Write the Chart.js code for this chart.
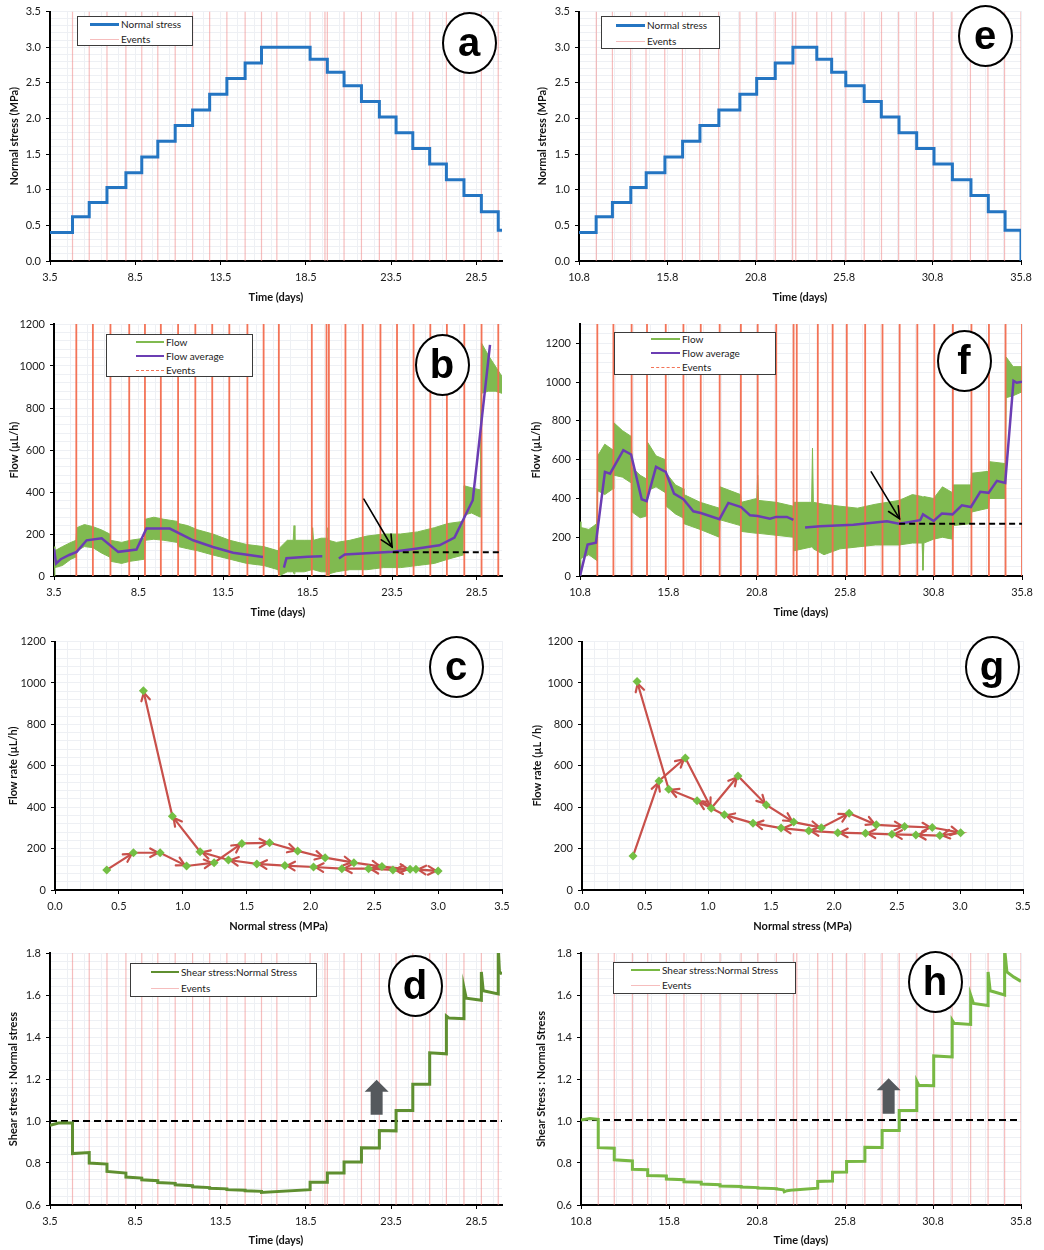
<!DOCTYPE html>
<html>
<head>
<meta charset="utf-8">
<script src="https://cdn.jsdelivr.net/npm/chart.js@4.4.1/dist/chart.umd.min.js"></script>
<style>
  body { margin: 0; background: #fff; }
  #page { position: relative; width: 1044px; height: 1250px; overflow: hidden; font-family: Lato, "Open Sans", sans-serif; }
  canvas { position: absolute; }
  .legend { position: absolute; background: #fff; border: 1px solid #3b3b3b; box-sizing: border-box; font-size: 10px; color: #222; }
  .legend .txt { position: absolute; height: 12px; line-height: 12px; white-space: nowrap; }
  .legend .smp { position: absolute; height: 0; }
  .badge { position: absolute; border: 2px solid #000; border-radius: 50%; box-sizing: border-box; background: #fff;
           font: bold 40px "Liberation Sans", Arial, sans-serif; text-align: center; color: #000; }
</style>
</head>
<body>
<div id="page"></div>
<script>
// ---------- left experiment (a, b, c, d) ----------
const eventsLeft = [4.82, 5.80, 6.84, 7.95, 8.88, 9.82, 10.84, 11.86, 12.86, 13.87, 14.94, 15.90, 16.80,
                    18.75, 19.62, 19.76, 20.74, 21.76, 22.81, 23.79, 24.77, 25.76, 26.74, 27.77, 28.79, 29.78];
const timeTicksLeft = [3.5, 8.5, 13.5, 18.5, 23.5, 28.5];

// a: normal stress steps (time the level starts, level)
const stepTimeA = [3.5, 4.82, 5.80, 6.84, 7.95, 8.88, 9.82, 10.84, 11.86, 12.86, 13.87, 14.94, 15.90,
                   18.75, 19.76, 20.74, 21.76, 22.81, 23.79, 24.77, 25.76, 26.74, 27.77, 28.79, 29.78, 30.0];
const stressA = [0.40, 0.62, 0.82, 1.03, 1.24, 1.46, 1.68, 1.90, 2.12, 2.34, 2.56, 2.78, 3.00,
                 2.83, 2.65, 2.46, 2.24, 2.02, 1.80, 1.58, 1.36, 1.14, 0.92, 0.69, 0.43, 0.43];

// b: flow band (upper / lower edge of the noisy record) and flow average
const flowTimeB = [3.5, 3.55, 4.0, 4.5, 4.8, 4.85, 5.3, 5.8, 6.3, 6.8, 6.85, 7.5, 8.0, 8.85, 8.9, 9.4, 10.0, 10.8, 10.85, 11.4,
                   12.0, 12.9, 13.9, 14.9, 15.9, 16.75, 16.8, 17.3, 17.65, 17.7, 17.75, 18.3, 18.75, 18.8, 18.85, 19.3, 19.65, 19.7, 19.75, 20.2,
                   21.0, 22.0, 23.0, 24.0, 25.0, 26.0, 26.8, 27.7, 27.75, 28.2, 28.72, 28.78, 29.2, 29.6, 30.0];
const flowHighB = [140, 120, 140, 160, 170, 230, 245, 235, 220, 200, 170, 160, 170, 180, 270, 280, 270, 260, 250, 240,
                   220, 200, 170, 150, 140, 120, 130, 170, 170, 240, 170, 170, 170, 230, 170, 180, 180, 230, 170, 160,
                   170, 190, 200, 200, 210, 230, 250, 260, 430, 420, 410, 1110, 1050, 1000, 950];
const flowLowB = [0, 40, 50, 80, 90, 120, 140, 135, 110, 90, 70, 60, 70, 80, 170, 175, 170, 160, 140, 130,
                  120, 100, 80, 60, 50, 30, 0, 20, 20, 10, 20, 20, 30, 30, 30, 20, 20, 0, 10, 20,
                  30, 30, 40, 40, 50, 60, 80, 100, 290, 300, 280, 870, 880, 880, 870];
const avgTimeB = [3.5, 3.62, 3.9, 4.4, 4.84, 5.43, 6.32, 7.3, 8.38, 8.97, 10.35, 11.73, 12.9, 14.1, 15.86, 16.5, 17.1, 17.25, 18.5, 19.37,
                  19.9, 20.35, 20.7, 22.0, 23.54, 24.9, 26.3, 27.19, 28.27, 29.29];
const avgFlowB = [130, 60, 80, 100, 115, 170, 180, 115, 126, 226, 226, 170, 138, 111, 91, null, 40, 85, 92, 94,
                  null, 83, 102, 108, 115, 130, 146, 183, 361, 1101];
const dashTimeB = [23.54, 30.0];
const dashFlowB = [113, 113];
const pointerB = [21.83, 366, 23.5, 138];

// c: flow rate vs normal stress (loading then unloading)
const stressC = [0.405, 0.614, 0.823, 1.03, 1.246, 1.463, 1.68, 1.90, 2.115, 2.34, 2.56, 2.78, 3.0,
                 2.826, 2.646, 2.455, 2.246, 2.024, 1.80, 1.58, 1.358, 1.136, 0.919, 0.692];
const flowC = [97, 180, 180, 116, 132, 225, 228, 189, 156, 132, 113, 100, 92,
               100, 97, 103, 103, 111, 118, 126, 145, 185, 356, 963];

// d: shear stress : normal stress
const timeD = [3.5, 4.0, 4.82, 4.82, 5.80, 5.80, 6.84, 6.84, 7.95, 7.95, 8.88, 8.88, 9.82, 9.82, 10.84, 10.84, 11.86, 11.86, 12.86, 12.86,
               13.87, 13.87, 14.94, 14.94, 15.90, 15.90, 18.75, 18.75, 19.76, 19.76, 20.74, 20.74, 21.76, 21.76, 22.81, 22.81, 23.79, 23.79, 24.77, 24.77,
               25.76, 25.76, 26.74, 26.74, 26.9, 27.77, 27.77, 27.9, 28.79, 28.79, 28.9, 29.78, 29.78, 29.85, 30.0];
const ratioD = [0.98, 0.99, 0.99, 0.845, 0.85, 0.80, 0.795, 0.76, 0.752, 0.733, 0.728, 0.72, 0.716, 0.707, 0.703, 0.696, 0.692, 0.687, 0.683, 0.68,
                0.677, 0.673, 0.67, 0.668, 0.665, 0.66, 0.673, 0.708, 0.708, 0.752, 0.752, 0.805, 0.805, 0.873, 0.872, 0.955, 0.953, 1.05, 1.05, 1.175,
                1.175, 1.325, 1.32, 1.50, 1.49, 1.487, 1.635, 1.585, 1.575, 1.71, 1.62, 1.605, 1.83, 1.71, 1.70];
const limitTimeD = [3.5, 30.0];
const limitD = [1.0, 1.0];
const blockD = [22.65, 1.03, 1.196];

// ---------- right experiment (e, f, g, h) ----------
const eventsRight = [11.78, 12.69, 13.72, 14.59, 15.65, 16.65, 17.63, 18.70, 19.90, 20.85, 21.90, 22.88, 23.06,
                     24.25, 25.09, 25.89, 26.93, 27.91, 28.88, 29.88, 30.84, 31.89, 32.94, 33.93, 34.87, 35.80];
const timeTicksRight = [10.8, 15.8, 20.8, 25.8, 30.8, 35.8];

const stepTimeE = [10.8, 11.77, 12.69, 13.73, 14.6, 15.66, 16.66, 17.64, 18.71, 19.9, 20.85, 21.9, 22.9,
                   24.25, 25.09, 25.89, 26.93, 27.9, 28.9, 29.9, 30.88, 31.92, 32.97, 33.95, 34.9, 35.8];
const stressE = [0.40, 0.62, 0.82, 1.03, 1.24, 1.46, 1.68, 1.90, 2.12, 2.34, 2.56, 2.78, 3.00,
                 2.83, 2.65, 2.46, 2.24, 2.02, 1.80, 1.58, 1.36, 1.14, 0.92, 0.69, 0.43, 0.0];

const flowTimeF = [10.8, 10.85, 11.3, 11.75, 11.8, 12.2, 12.67, 12.72, 13.2, 13.7, 13.75, 14.2, 14.57, 14.62, 15.1, 15.63, 15.68, 16.2, 16.63, 16.68,
                   17.6, 18.68, 18.72, 19.88, 19.92, 20.8, 20.85, 20.9, 21.9, 22.87, 22.9, 23.9, 23.95, 24.0, 24.6, 25.5, 26.5, 27.5, 28.85, 29.6,
                   30.15, 30.2, 30.25, 30.8, 31.3, 31.87, 31.92, 32.9, 32.95, 33.9, 33.95, 34.85, 34.9, 35.3, 35.8];
const flowHighF = [280, 250, 240, 270, 620, 680, 650, 790, 750, 720, 560, 520, 500, 690, 620, 600, 530, 470, 450, 420,
                   380, 350, 460, 420, 380, 400, 520, 390, 380, 360, 380, 380, 660, 380, 370, 360, 350, 370, 390, 420,
                   410, 400, 410, 400, 460, 430, 470, 470, 530, 540, 590, 580, 1130, 1080, 1080];
const flowLowF = [0, 90, 110, 80, 440, 420, 450, 520, 510, 480, 330, 300, 310, 440, 460, 430, 360, 320, 300, 270,
                  240, 200, 290, 260, 230, 220, 220, 220, 210, 200, 130, 150, 150, 140, 110, 140, 150, 160, 160, 170,
                  170, 30, 170, 190, 200, 190, 260, 270, 330, 350, 400, 400, 920, 930, 950];
const avgTimeF = [10.8, 11.23, 11.7, 12.21, 12.5, 13.25, 13.69, 14.29, 14.57, 15.1, 15.65, 16.12, 16.65, 17.21, 17.63, 18.69, 19.19, 19.91, 20.42, 20.85,
                  21.55, 21.89, 22.5, 22.87, 23.2, 23.53, 24.38, 26.27, 28.16, 28.85, 30.04, 30.2, 30.8, 31.27, 31.87, 32.4, 32.91, 33.44, 33.91, 34.38,
                  34.85, 35.32, 35.5, 35.8];
const avgFlowF = [0, 162, 172, 537, 528, 649, 627, 396, 386, 563, 537, 425, 396, 334, 325, 293, 377, 356, 313, 310,
                  296, 305, 305, 290, null, 250, 257, 265, 282, 270, 288, 318, 284, 322, 318, 365, 356, 434, 429, 491,
                  480, 1007, 997, 1002];
const dashTimeF = [28.85, 35.8];
const dashFlowF = [270, 270];
const pointerF = [27.27, 537, 28.87, 296];

const stressG = [0.405, 0.611, 0.82, 1.026, 1.238, 1.463, 1.68, 1.90, 2.12, 2.336, 2.56, 2.78, 3.005,
                 2.84, 2.65, 2.46, 2.25, 2.03, 1.80, 1.58, 1.357, 1.13, 0.913, 0.688, 0.437];
const flowG = [164, 527, 638, 395, 551, 411, 328, 301, 371, 315, 307, 302, 277,
               263, 266, 269, 274, 277, 286, 299, 323, 363, 431, 487, 1007];

const timeH = [10.8, 11.3, 11.78, 11.78, 12.69, 12.69, 13.72, 13.72, 14.59, 14.59, 15.65, 15.65, 16.65, 16.65, 17.63, 17.63, 18.7, 18.7, 19.9, 19.9,
               20.85, 20.85, 21.9, 21.9, 22.3, 22.35, 22.5, 22.88, 24.25, 24.25, 25.09, 25.09, 25.89, 25.89, 26.93, 26.93, 27.91, 27.91, 28.88, 28.88,
               29.88, 29.88, 30.0, 30.84, 30.84, 31.89, 31.89, 32.0, 32.94, 32.94, 33.1, 33.93, 33.93, 34.05, 34.87, 34.87, 35.0, 35.4, 35.8];
const ratioH = [1.005, 1.012, 1.008, 0.873, 0.87, 0.815, 0.81, 0.77, 0.768, 0.74, 0.738, 0.724, 0.72, 0.711, 0.708, 0.70, 0.697, 0.69, 0.688, 0.686,
                0.683, 0.681, 0.678, 0.676, 0.672, 0.663, 0.668, 0.672, 0.68, 0.712, 0.714, 0.756, 0.757, 0.807, 0.808, 0.875, 0.874, 0.955, 0.955, 1.05,
                1.05, 1.19, 1.17, 1.168, 1.31, 1.305, 1.48, 1.465, 1.46, 1.60, 1.56, 1.55, 1.71, 1.62, 1.60, 1.82, 1.71, 1.685, 1.665];
const limitTimeH = [10.8, 35.8];
const limitH = [1.005, 1.005];
const blockH = [28.28, 1.034, 1.204];

// shared tick labels
const stressTicks = [0, 0.5, 1.0, 1.5, 2.0, 2.5, 3.0, 3.5];
const flowTicks = [0, 200, 400, 600, 800, 1000, 1200];
const ratioTicks = [0.6, 0.8, 1.0, 1.2, 1.4, 1.6, 1.8];

// ---------- drawing ----------
Chart.defaults.font.family = 'Lato, "Open Sans", sans-serif';
Chart.defaults.font.size = 11;
Chart.defaults.color = '#1a1a1a';

const MAJOR = '#d6dbe3', MINOR = '#eef0f4';
const PALE_EVENT = 'rgba(240,145,145,0.6)', RED_EVENT = 'rgba(242,108,78,0.95)';
const page = document.getElementById('page');

function pts(xs, ys) { return xs.map((x, i) => ({ x: x, y: ys[i] })); }
function eventPts(times, lo, hi) {
  const out = [];
  times.forEach(t => { out.push({ x: t, y: lo }, { x: t, y: hi }, { x: t, y: null }); });
  return out;
}
function ds(data, color, width, extra) {
  return Object.assign({ data: data, borderColor: color, backgroundColor: color, borderWidth: width, pointRadius: 0,
    fill: false, borderJoinStyle: 'miter', xAxisID: 'x', yAxisID: 'y' }, extra || {});
}

// arrowheads on segment ends, pointer arrows, block arrows
const extras = {
  id: 'extras',
  afterDatasetDraw(chart, args) {
    const set = chart.data.datasets[args.index];
    if (!set.arrowHeads) return;
    const c = chart.ctx, p = args.meta.data;
    c.save();
    c.strokeStyle = set.borderColor; c.lineWidth = 2.2; c.lineCap = 'round'; c.lineJoin = 'round';
    for (let i = 1; i < p.length; i++) {
      const a = Math.atan2(p[i].y - p[i - 1].y, p[i].x - p[i - 1].x);
      const tx = p[i].x - 2 * Math.cos(a), ty = p[i].y - 2 * Math.sin(a);
      c.beginPath();
      c.moveTo(tx - 9 * Math.cos(a - 0.5), ty - 9 * Math.sin(a - 0.5));
      c.lineTo(tx, ty);
      c.lineTo(tx - 9 * Math.cos(a + 0.5), ty - 9 * Math.sin(a + 0.5));
      c.stroke();
    }
    c.restore();
  },
  afterDatasetsDraw(chart, args, opts) {
    const c = chart.ctx, xs = chart.scales.x, ys = chart.scales.y;
    if (opts.pointer) {
      const q = opts.pointer;
      const x1 = xs.getPixelForValue(q[0]), y1 = ys.getPixelForValue(q[1]);
      const x2 = xs.getPixelForValue(q[2]), y2 = ys.getPixelForValue(q[3]);
      const a = Math.atan2(y2 - y1, x2 - x1);
      c.save();
      c.strokeStyle = '#000'; c.lineWidth = 1.6; c.lineCap = 'round';
      c.beginPath(); c.moveTo(x1, y1); c.lineTo(x2, y2); c.stroke();
      c.beginPath();
      c.moveTo(x2 - 13 * Math.cos(a - 0.45), y2 - 13 * Math.sin(a - 0.45));
      c.lineTo(x2, y2);
      c.lineTo(x2 - 13 * Math.cos(a + 0.45), y2 - 13 * Math.sin(a + 0.45));
      c.stroke();
      c.restore();
    }
    if (opts.block) {
      const q = opts.block;
      const x = xs.getPixelForValue(q[0]), y0 = ys.getPixelForValue(q[1]), y1 = ys.getPixelForValue(q[2]);
      c.save();
      c.fillStyle = '#55595d';
      c.beginPath();
      c.moveTo(x - 6, y0); c.lineTo(x - 6, y1 + 12); c.lineTo(x - 12, y1 + 12); c.lineTo(x, y1);
      c.lineTo(x + 12, y1 + 12); c.lineTo(x + 6, y1 + 12); c.lineTo(x + 6, y0);
      c.closePath(); c.fill();
      c.restore();
    }
  }
};
Chart.register(extras);

function makeChart(b, xc, yc, datasets, extra) {
  const cv = document.createElement('canvas');
  cv.width = b.w; cv.height = b.h;
  cv.style.left = b.x + 'px'; cv.style.top = b.y + 'px';
  page.appendChild(cv);
  const minor = c => ax => {
    const t = [];
    for (let v = c.min; v <= c.max + 1e-9; v += c.minor) t.push({ value: +v.toFixed(4) });
    ax.ticks = t;
  };
  return new Chart(cv, {
    type: 'line',
    data: { datasets: datasets },
    options: {
      responsive: false, animation: false, events: [],
      layout: { padding: { left: 0, top: b.top, right: b.w - b.right, bottom: 0 } },
      plugins: { legend: { display: false }, tooltip: { enabled: false }, extras: extra || {} },
      scales: {
        x: {
          type: 'linear', position: 'bottom', min: xc.min, max: xc.max, weight: 1,
          afterBuildTicks: ax => { ax.ticks = xc.ticks.map(v => ({ value: v })); },
          afterFit: ax => { ax.height = b.h - b.bottom; },
          ticks: { padding: 6, autoSkip: false, maxRotation: 0, callback: v => v.toFixed(xc.dec) },
          grid: { color: MAJOR, tickColor: '#000', tickLength: 4 },
          border: { color: '#000', width: 2 },
          title: { display: true, text: xc.title, color: '#111', font: { size: 11, weight: 'bold' }, padding: { top: 0, bottom: b.xtp } }
        },
        y: {
          type: 'linear', position: 'left', min: yc.min, max: yc.max, weight: 1,
          afterBuildTicks: ax => { ax.ticks = yc.ticks.map(v => ({ value: v })); },
          afterFit: ax => { ax.width = b.left; },
          ticks: { padding: 5, autoSkip: false, callback: v => v.toFixed(yc.dec) },
          grid: { color: MAJOR, tickColor: '#000', tickLength: 4 },
          border: { color: '#000', width: 2 },
          title: { display: true, text: yc.title, color: '#111', font: { size: 11, weight: 'bold' }, padding: { top: b.ytp, bottom: 0 } }
        },
        xMinor: {
          type: 'linear', position: 'bottom', min: xc.min, max: xc.max, weight: 0,
          afterBuildTicks: minor(xc), afterFit: ax => { ax.height = 0; },
          ticks: { display: false }, grid: { color: MINOR, drawTicks: false }, border: { display: false }
        },
        yMinor: {
          type: 'linear', position: 'left', min: yc.min, max: yc.max, weight: 0,
          afterBuildTicks: minor(yc), afterFit: ax => { ax.width = 0; },
          ticks: { display: false }, grid: { color: MINOR, drawTicks: false }, border: { display: false }
        }
      }
    }
  });
}

function legend(l, t, w, h, items) {
  const d = document.createElement('div');
  d.className = 'legend';
  d.style.cssText = 'left:' + l + 'px;top:' + t + 'px;width:' + w + 'px;height:' + h + 'px';
  items.forEach(it => {
    const s = document.createElement('div');
    s.className = 'smp';
    s.style.cssText = 'left:' + it.sx + 'px;width:' + it.sw + 'px;top:' + (it.y - it.lw / 2) + 'px;border-top:' +
      it.lw + 'px ' + (it.dash ? 'dashed' : 'solid') + ' ' + it.color;
    const tx = document.createElement('div');
    tx.className = 'txt';
    tx.textContent = it.text;
    tx.style.cssText = 'left:' + (it.sx + it.sw + 2) + 'px;top:' + (it.y - 6) + 'px';
    d.appendChild(s); d.appendChild(tx);
  });
  page.appendChild(d);
}
function badge(cx, cy, letter) {
  const d = document.createElement('div');
  d.className = 'badge';
  d.textContent = letter;
  d.style.cssText = 'left:' + (cx - 27.5) + 'px;top:' + (cy - 31) + 'px;width:55px;height:62px;line-height:56px';
  page.appendChild(d);
}

const timeL = { min: 3.5, max: 30.0, ticks: timeTicksLeft, minor: 1, dec: 1, title: 'Time (days)' };
const timeR = { min: 10.8, max: 35.8, ticks: timeTicksRight, minor: 1, dec: 1, title: 'Time (days)' };
const BLUE = '#2475c2', GREEN = 'rgb(128,186,80)', PURPLE = '#6b3db3', RED = '#c8504b', DIAMOND = '#74bf44';

// a
makeChart({ x: 0, y: 0, w: 520, h: 310, left: 50, top: 10, right: 502, bottom: 261, ytp: 8, xtp: 6 },
  timeL, { min: 0, max: 3.5, ticks: stressTicks, minor: 0.1, dec: 1, title: 'Normal stress (MPa)' },
  [ds(eventPts(eventsLeft, 0, 3.5), PALE_EVENT, 1.2, { order: 2 }),
   ds(pts(stepTimeA, stressA), BLUE, 3, { stepped: true, order: 1 })]);

// e
makeChart({ x: 520, y: 0, w: 524, h: 310, left: 59, top: 10, right: 501, bottom: 261, ytp: 16, xtp: 6 },
  timeR, { min: 0, max: 3.5, ticks: stressTicks, minor: 0.1, dec: 1, title: 'Normal stress (MPa)' },
  [ds(eventPts(eventsRight, 0, 3.5), PALE_EVENT, 1.2, { order: 2 }),
   ds(pts(stepTimeE, stressE), BLUE, 3, { stepped: true, order: 1 })]);

// b
makeChart({ x: 0, y: 310, w: 520, h: 320, left: 54, top: 14, right: 502, bottom: 266, ytp: 8, xtp: 11 },
  timeL, { min: 0, max: 1200, ticks: flowTicks, minor: 40, dec: 0, title: 'Flow (µL/h)' },
  [ds(pts(flowTimeB, flowHighB), GREEN, 1, { fill: '+1', order: 6 }),
   ds(pts(flowTimeB, flowLowB), GREEN, 1, { order: 5 }),
   ds(eventPts(eventsLeft, 0, 1200), RED_EVENT, 1.8, { order: 4 }),
   ds(pts(avgTimeB, avgFlowB), PURPLE, 2.5, { order: 2 }),
   ds(pts(dashTimeB, dashFlowB), '#000', 2, { borderDash: [6, 4], order: 1 })],
  { pointer: pointerB });

// f
makeChart({ x: 520, y: 310, w: 524, h: 320, left: 60, top: 14, right: 502, bottom: 266, ytp: 10, xtp: 11 },
  timeR, { min: 0, max: 1300, ticks: flowTicks, minor: 50, dec: 0, title: 'Flow (µL/h)' },
  [ds(pts(flowTimeF, flowHighF), GREEN, 1, { fill: '+1', order: 6 }),
   ds(pts(flowTimeF, flowLowF), GREEN, 1, { order: 5 }),
   ds(eventPts(eventsRight, 0, 1300), RED_EVENT, 1.8, { order: 4 }),
   ds(pts(avgTimeF, avgFlowF), PURPLE, 2.5, { order: 2 }),
   ds(pts(dashTimeF, dashFlowF), '#000', 2, { borderDash: [6, 4], order: 1 })],
  { pointer: pointerF });

// c
makeChart({ x: 0, y: 630, w: 520, h: 310, left: 55, top: 9, right: 502, bottom: 260, ytp: 7, xtp: 7 },
  { min: 0, max: 3.5, ticks: stressTicks, minor: 0.1, dec: 1, title: 'Normal stress (MPa)' },
  { min: 0, max: 1200, ticks: flowTicks, minor: 40, dec: 0, title: 'Flow rate (µL/h)' },
  [ds(pts(stressC, flowC), RED, 2.2, { arrowHeads: true, order: 1 }),
   ds(pts(stressC, flowC), DIAMOND, 0, { showLine: false, pointStyle: 'rectRot', pointRadius: 4.5, order: 0 })]);

// g
makeChart({ x: 520, y: 630, w: 524, h: 310, left: 62, top: 9, right: 503, bottom: 260, ytp: 11, xtp: 7 },
  { min: 0, max: 3.5, ticks: stressTicks, minor: 0.1, dec: 1, title: 'Normal stress (MPa)' },
  { min: 0, max: 1200, ticks: flowTicks, minor: 40, dec: 0, title: 'Flow rate (µL /h)' },
  [ds(pts(stressG, flowG), RED, 2.2, { arrowHeads: true, order: 1 }),
   ds(pts(stressG, flowG), DIAMOND, 0, { showLine: false, pointStyle: 'rectRot', pointRadius: 4.5, order: 0 })]);

// d
makeChart({ x: 0, y: 940, w: 520, h: 310, left: 50, top: 13, right: 502, bottom: 265, ytp: 7, xtp: 3 },
  timeL, { min: 0.6, max: 1.8, ticks: ratioTicks, minor: 0.04, dec: 1, title: 'Shear stress : Normal stress' },
  [ds(eventPts(eventsLeft, 0.6, 1.8), PALE_EVENT, 1.2, { order: 3 }),
   ds(pts(limitTimeD, limitD), '#000', 2, { borderDash: [7, 4], order: 2 }),
   ds(pts(timeD, ratioD), '#5f8f30', 3, { order: 1 })],
  { block: blockD });

// h
makeChart({ x: 520, y: 940, w: 524, h: 310, left: 61, top: 13, right: 501, bottom: 265, ytp: 15, xtp: 3 },
  timeR, { min: 0.6, max: 1.8, ticks: ratioTicks, minor: 0.04, dec: 1, title: 'Shear Stress : Normal Stress' },
  [ds(eventPts(eventsRight, 0.6, 1.8), PALE_EVENT, 1.2, { order: 3 }),
   ds(pts(limitTimeH, limitH), '#000', 2, { borderDash: [7, 4], order: 2 }),
   ds(pts(timeH, ratioH), '#78b843', 3, { order: 1 })],
  { block: blockH });

// legends
legend(77, 16, 116, 30, [
  { sx: 12, sw: 29, y: 7, lw: 3, color: BLUE, text: 'Normal stress' },
  { sx: 12, sw: 29, y: 22, lw: 1, color: PALE_EVENT, text: 'Events' }]);
legend(601, 16, 119, 33, [
  { sx: 14, sw: 29, y: 8, lw: 3, color: BLUE, text: 'Normal stress' },
  { sx: 14, sw: 29, y: 24, lw: 1, color: PALE_EVENT, text: 'Events' }]);
legend(106, 334, 147, 43, [
  { sx: 29, sw: 28, y: 7, lw: 2, color: GREEN, text: 'Flow' },
  { sx: 29, sw: 28, y: 21, lw: 2.5, color: PURPLE, text: 'Flow average' },
  { sx: 29, sw: 28, y: 35, lw: 1, color: RED_EVENT, dash: true, text: 'Events' }]);
legend(614, 332, 162, 43, [
  { sx: 36, sw: 29, y: 6, lw: 2, color: GREEN, text: 'Flow' },
  { sx: 36, sw: 29, y: 20, lw: 2.5, color: PURPLE, text: 'Flow average' },
  { sx: 36, sw: 29, y: 34, lw: 1, color: RED_EVENT, dash: true, text: 'Events' }]);
legend(130, 963, 187, 34, [
  { sx: 20, sw: 28, y: 8, lw: 2.5, color: '#5f8f30', text: 'Shear stress:Normal Stress' },
  { sx: 20, sw: 28, y: 24, lw: 1, color: PALE_EVENT, text: 'Events' }]);
legend(613, 962, 183, 32, [
  { sx: 17, sw: 29, y: 7, lw: 2.5, color: '#78b843', text: 'Shear stress:Normal Stress' },
  { sx: 17, sw: 29, y: 22, lw: 1, color: PALE_EVENT, text: 'Events' }]);

// panel letters
badge(469, 43, 'a');
badge(985, 36, 'e');
badge(442, 365, 'b');
badge(964, 361, 'f');
badge(456, 667, 'c');
badge(992, 667, 'g');
badge(415, 986, 'd');
badge(935, 982, 'h');
</script>
</body>
</html>
